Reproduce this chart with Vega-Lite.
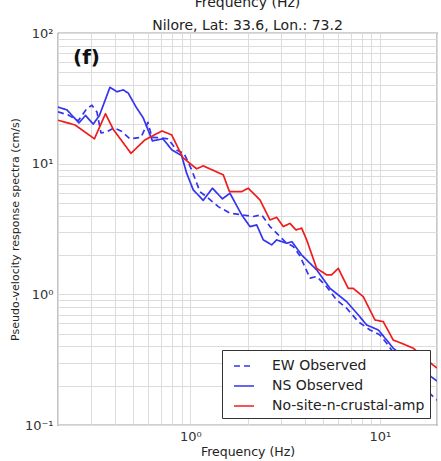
{
  "$schema": "https://vega.github.io/schema/vega-lite/v6.json",
  "width": 379,
  "height": 392,
  "autosize": {"type": "none"},
  "padding": {"left": 58, "top": 33, "right": 4, "bottom": 36},
  "background": "white",
  "title": {
    "text": ["Frequency (Hz)", "Nilore, Lat: 33.6, Lon.: 73.2"],
    "font": "DejaVu Sans",
    "fontSize": 14,
    "fontWeight": "normal",
    "color": "#222",
    "lineHeight": 23,
    "offset": -17,
    "baseline": "alphabetic",
    "anchor": "middle",
    "frame": "group"
  },
  "config": {
    "view": {"stroke": "#444", "strokeWidth": 1.2},
    "axis": {
      "grid": true,
      "gridColor": "#dcdcdc",
      "gridWidth": 1,
      "domain": false,
      "ticks": false,
      "labelFont": "DejaVu Sans",
      "labelFontSize": 13,
      "labelColor": "#333",
      "labelOverlap": false,
      "titleFont": "DejaVu Sans",
      "titleFontSize": 12.5,
      "titleFontWeight": "normal",
      "titleColor": "#222"
    },
    "legend": {
      "orient": "bottom-right",
      "offset": 7,
      "fillColor": "white",
      "strokeColor": "#333",
      "padding": 5,
      "labelFont": "DejaVu Sans",
      "labelFontSize": 14,
      "labelColor": "#222",
      "symbolType": "stroke",
      "symbolSize": 400,
      "symbolStrokeWidth": 2,
      "symbolOffset": 6,
      "labelOffset": 17,
      "rowPadding": 2
    }
  },
  "encoding": {
    "x": {
      "field": "f",
      "type": "quantitative",
      "scale": {"type": "log", "domain": [0.2, 20], "nice": false},
      "axis": {
        "title": "Frequency (Hz)",
        "values": [0.2, 0.3, 0.4, 0.5, 0.6, 0.7, 0.8, 0.9, 1, 2, 3, 4, 5, 6, 7, 8, 9, 10, 20],
        "labelExpr": "datum.value == 1 ? '10⁰' : datum.value == 10 ? '10¹' : ''",
        "labelPadding": 5,
        "titlePadding": 2
      }
    },
    "y": {
      "field": "v",
      "type": "quantitative",
      "scale": {"type": "log", "domain": [0.1, 100], "nice": false},
      "axis": {
        "title": "Pseudo-velocity response spectra (cm/s)",
        "titleFontSize": 11,
        "values": [0.1, 0.2, 0.3, 0.4, 0.5, 0.6, 0.7, 0.8, 0.9, 1, 2, 3, 4, 5, 6, 7, 8, 9, 10, 20, 30, 40, 50, 60, 70, 80, 90, 100],
        "labelExpr": "datum.value == 0.1 ? '10⁻¹' : datum.value == 1 ? '10⁰' : datum.value == 10 ? '10¹' : datum.value == 100 ? '10²' : ''",
        "labelPadding": 5,
        "titlePadding": 4
      }
    }
  },
  "layer": [
    {
      "data": {
        "values": [
          {"series": "EW Observed", "f": 0.2, "v": 24.9},
          {"series": "EW Observed", "f": 0.2265, "v": 23.6},
          {"series": "EW Observed", "f": 0.2558, "v": 21.3},
          {"series": "EW Observed", "f": 0.2834, "v": 26.3},
          {"series": "EW Observed", "f": 0.3021, "v": 28.0},
          {"series": "EW Observed", "f": 0.321, "v": 24.9},
          {"series": "EW Observed", "f": 0.337, "v": 17.2},
          {"series": "EW Observed", "f": 0.3581, "v": 17.4},
          {"series": "EW Observed", "f": 0.3948, "v": 18.8},
          {"series": "EW Observed", "f": 0.435, "v": 17.6},
          {"series": "EW Observed", "f": 0.4795, "v": 15.5},
          {"series": "EW Observed", "f": 0.548, "v": 15.9},
          {"series": "EW Observed", "f": 0.5966, "v": 20.7},
          {"series": "EW Observed", "f": 0.6262, "v": 15.9},
          {"series": "EW Observed", "f": 0.6903, "v": 15.8},
          {"series": "EW Observed", "f": 0.7609, "v": 15.5},
          {"series": "EW Observed", "f": 0.8488, "v": 12.65},
          {"series": "EW Observed", "f": 0.924, "v": 12.0},
          {"series": "EW Observed", "f": 1.0147, "v": 8.97},
          {"series": "EW Observed", "f": 1.122, "v": 6.11},
          {"series": "EW Observed", "f": 1.241, "v": 5.44},
          {"series": "EW Observed", "f": 1.402, "v": 4.69},
          {"series": "EW Observed", "f": 1.616, "v": 4.18},
          {"series": "EW Observed", "f": 1.863, "v": 4.06},
          {"series": "EW Observed", "f": 2.145, "v": 3.94},
          {"series": "EW Observed", "f": 2.375, "v": 4.06},
          {"series": "EW Observed", "f": 2.628, "v": 3.3},
          {"series": "EW Observed", "f": 2.85, "v": 2.94},
          {"series": "EW Observed", "f": 3.153, "v": 2.53},
          {"series": "EW Observed", "f": 3.486, "v": 2.32},
          {"series": "EW Observed", "f": 3.783, "v": 1.97},
          {"series": "EW Observed", "f": 4.272, "v": 1.33},
          {"series": "EW Observed", "f": 4.634, "v": 1.37},
          {"series": "EW Observed", "f": 5.232, "v": 1.145},
          {"series": "EW Observed", "f": 5.908, "v": 0.906},
          {"series": "EW Observed", "f": 6.673, "v": 0.783},
          {"series": "EW Observed", "f": 7.683, "v": 0.618},
          {"series": "EW Observed", "f": 8.855, "v": 0.534},
          {"series": "EW Observed", "f": 10.0, "v": 0.489},
          {"series": "EW Observed", "f": 10.85, "v": 0.422},
          {"series": "EW Observed", "f": 14.4, "v": 0.241},
          {"series": "EW Observed", "f": 20.0, "v": 0.155},
          {"series": "NS Observed", "f": 0.2, "v": 27.1},
          {"series": "NS Observed", "f": 0.223, "v": 25.8},
          {"series": "NS Observed", "f": 0.258, "v": 20.5},
          {"series": "NS Observed", "f": 0.2792, "v": 23.4},
          {"series": "NS Observed", "f": 0.3069, "v": 20.1},
          {"series": "NS Observed", "f": 0.331, "v": 23.4},
          {"series": "NS Observed", "f": 0.3759, "v": 38.4},
          {"series": "NS Observed", "f": 0.4094, "v": 35.5},
          {"series": "NS Observed", "f": 0.4418, "v": 36.7},
          {"series": "NS Observed", "f": 0.4695, "v": 34.7},
          {"series": "NS Observed", "f": 0.5159, "v": 27.2},
          {"series": "NS Observed", "f": 0.5635, "v": 22.4},
          {"series": "NS Observed", "f": 0.63, "v": 14.95},
          {"series": "NS Observed", "f": 0.716, "v": 15.5},
          {"series": "NS Observed", "f": 0.796, "v": 12.8},
          {"series": "NS Observed", "f": 0.8987, "v": 11.5},
          {"series": "NS Observed", "f": 0.9548, "v": 8.46},
          {"series": "NS Observed", "f": 1.0346, "v": 6.3},
          {"series": "NS Observed", "f": 1.168, "v": 5.24},
          {"series": "NS Observed", "f": 1.306, "v": 6.49},
          {"series": "NS Observed", "f": 1.475, "v": 5.38},
          {"series": "NS Observed", "f": 1.616, "v": 5.94},
          {"series": "NS Observed", "f": 1.863, "v": 4.06},
          {"series": "NS Observed", "f": 2.061, "v": 3.3},
          {"series": "NS Observed", "f": 2.236, "v": 3.4},
          {"series": "NS Observed", "f": 2.423, "v": 2.61},
          {"series": "NS Observed", "f": 2.683, "v": 2.39},
          {"series": "NS Observed", "f": 2.85, "v": 2.61},
          {"series": "NS Observed", "f": 3.219, "v": 2.46},
          {"series": "NS Observed", "f": 3.432, "v": 2.53},
          {"series": "NS Observed", "f": 3.862, "v": 2.0},
          {"series": "NS Observed", "f": 4.634, "v": 1.54},
          {"series": "NS Observed", "f": 5.446, "v": 1.113},
          {"series": "NS Observed", "f": 6.673, "v": 0.879},
          {"series": "NS Observed", "f": 7.683, "v": 0.696},
          {"series": "NS Observed", "f": 8.507, "v": 0.583},
          {"series": "NS Observed", "f": 9.795, "v": 0.534},
          {"series": "NS Observed", "f": 10.85, "v": 0.447},
          {"series": "NS Observed", "f": 11.75, "v": 0.387},
          {"series": "NS Observed", "f": 14.4, "v": 0.304},
          {"series": "NS Observed", "f": 19.11, "v": 0.228},
          {"series": "NS Observed", "f": 20.0, "v": 0.217},
          {"series": "No-site-n-crustal-amp", "f": 0.2, "v": 21.5},
          {"series": "No-site-n-crustal-amp", "f": 0.2457, "v": 19.8},
          {"series": "No-site-n-crustal-amp", "f": 0.3114, "v": 15.5},
          {"series": "No-site-n-crustal-amp", "f": 0.356, "v": 24.1},
          {"series": "No-site-n-crustal-amp", "f": 0.3925, "v": 18.2},
          {"series": "No-site-n-crustal-amp", "f": 0.4853, "v": 12.0},
          {"series": "No-site-n-crustal-amp", "f": 0.5752, "v": 15.2},
          {"series": "No-site-n-crustal-amp", "f": 0.7073, "v": 17.8},
          {"series": "No-site-n-crustal-amp", "f": 0.796, "v": 16.6},
          {"series": "No-site-n-crustal-amp", "f": 0.9129, "v": 11.1},
          {"series": "No-site-n-crustal-amp", "f": 1.078, "v": 9.13},
          {"series": "No-site-n-crustal-amp", "f": 1.168, "v": 9.62},
          {"series": "No-site-n-crustal-amp", "f": 1.49, "v": 8.21},
          {"series": "No-site-n-crustal-amp", "f": 1.606, "v": 6.11},
          {"series": "No-site-n-crustal-amp", "f": 1.863, "v": 6.11},
          {"series": "No-site-n-crustal-amp", "f": 2.018, "v": 6.49},
          {"series": "No-site-n-crustal-amp", "f": 2.327, "v": 5.28},
          {"series": "No-site-n-crustal-amp", "f": 2.628, "v": 3.71},
          {"series": "No-site-n-crustal-amp", "f": 2.85, "v": 3.89},
          {"series": "No-site-n-crustal-amp", "f": 3.088, "v": 3.3},
          {"series": "No-site-n-crustal-amp", "f": 3.35, "v": 3.49},
          {"series": "No-site-n-crustal-amp", "f": 3.604, "v": 3.11},
          {"series": "No-site-n-crustal-amp", "f": 3.862, "v": 3.21},
          {"series": "No-site-n-crustal-amp", "f": 4.105, "v": 2.61},
          {"series": "No-site-n-crustal-amp", "f": 4.634, "v": 1.58},
          {"series": "No-site-n-crustal-amp", "f": 5.232, "v": 1.41},
          {"series": "No-site-n-crustal-amp", "f": 5.562, "v": 1.41},
          {"series": "No-site-n-crustal-amp", "f": 6.026, "v": 1.58},
          {"series": "No-site-n-crustal-amp", "f": 6.803, "v": 1.11},
          {"series": "No-site-n-crustal-amp", "f": 7.229, "v": 1.11},
          {"series": "No-site-n-crustal-amp", "f": 8.165, "v": 0.96},
          {"series": "No-site-n-crustal-amp", "f": 9.41, "v": 0.637},
          {"series": "No-site-n-crustal-amp", "f": 10.41, "v": 0.618},
          {"series": "No-site-n-crustal-amp", "f": 11.75, "v": 0.447},
          {"series": "No-site-n-crustal-amp", "f": 13.27, "v": 0.417},
          {"series": "No-site-n-crustal-amp", "f": 14.99, "v": 0.387},
          {"series": "No-site-n-crustal-amp", "f": 19.04, "v": 0.288},
          {"series": "No-site-n-crustal-amp", "f": 20.0, "v": 0.273}
        ]
      },
      "mark": {"type": "line", "clip": true, "strokeJoin": "round"},
      "encoding": {
        "color": {
          "field": "series",
          "type": "nominal",
          "scale": {
            "domain": ["EW Observed", "NS Observed", "No-site-n-crustal-amp"],
            "range": ["#3535ee", "#3535ee", "#f01c1c"]
          },
          "legend": {"title": null}
        },
        "strokeDash": {
          "field": "series",
          "type": "nominal",
          "scale": {
            "domain": ["EW Observed", "NS Observed", "No-site-n-crustal-amp"],
            "range": [[6, 4], [1, 0], [1, 0]]
          },
          "legend": {"title": null}
        },
        "strokeWidth": {
          "field": "series",
          "type": "nominal",
          "scale": {
            "domain": ["EW Observed", "NS Observed", "No-site-n-crustal-amp"],
            "range": [1.7, 1.7, 2.3]
          },
          "legend": null
        }
      }
    },
    {
      "data": {"values": [{"label": "(f)", "f": 0.24, "v": 64.6}]},
      "mark": {"type": "text", "font": "DejaVu Sans", "fontSize": 20, "fontWeight": "bold", "align": "left", "baseline": "middle", "color": "#111"},
      "encoding": {"text": {"field": "label", "type": "nominal"}}
    }
  ]
}
